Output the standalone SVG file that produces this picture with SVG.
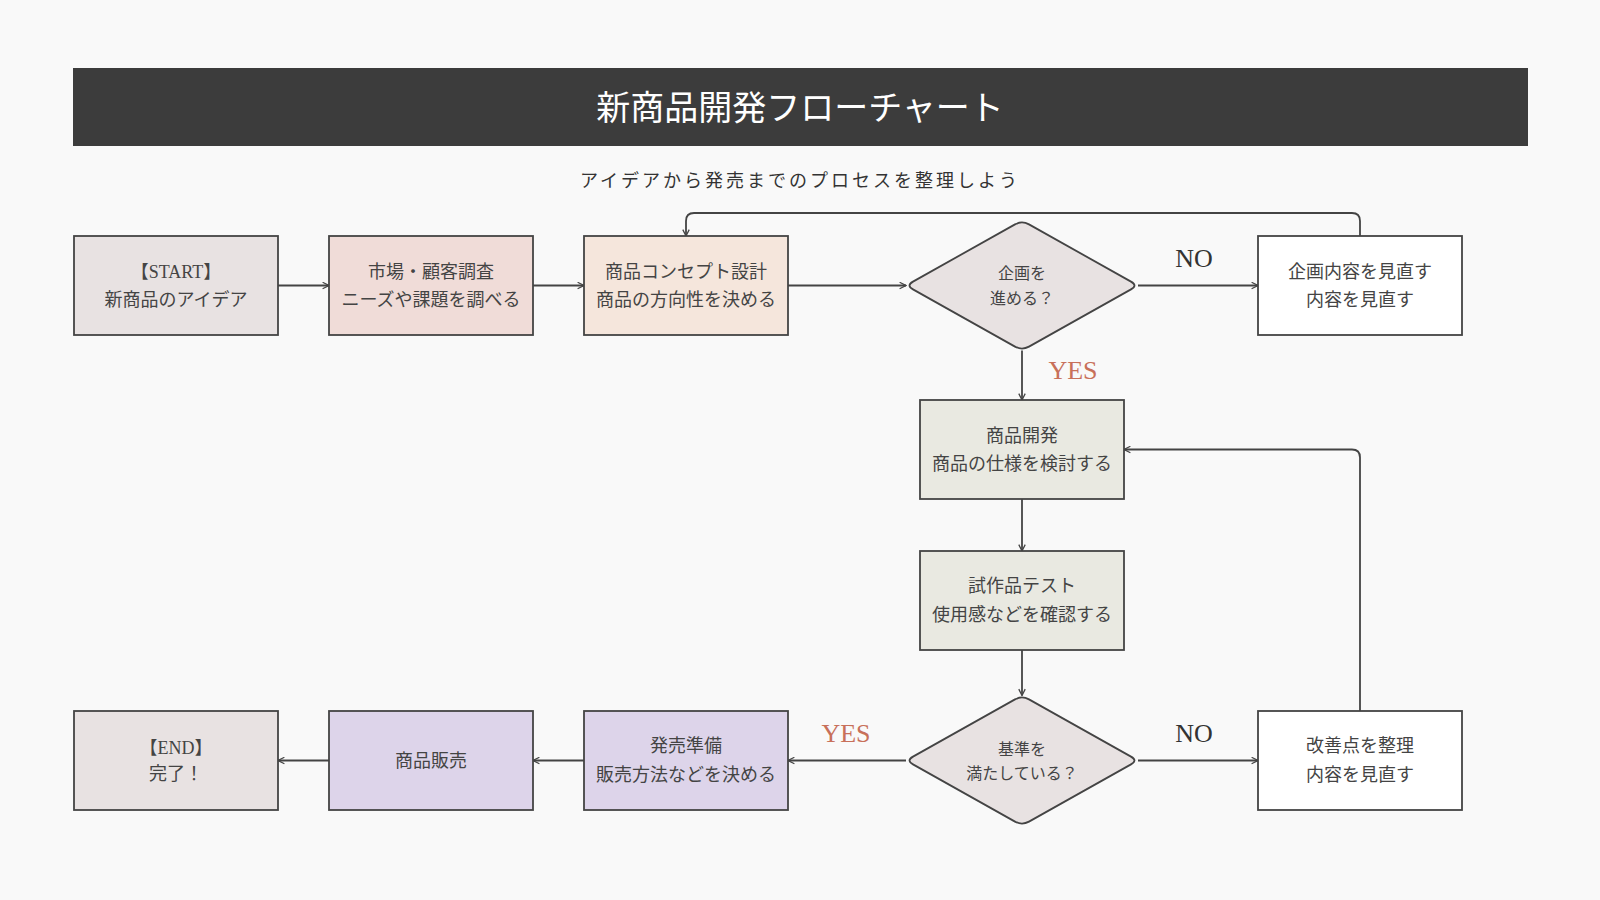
<svg xmlns="http://www.w3.org/2000/svg" width="1600" height="900" viewBox="0 0 1600 900">
<defs>
<style>
.bg{fill:#f9f9f9}
.box{stroke:#444;stroke-width:1.8}
.t{font-family:"Liberation Serif","Noto Sans CJK JP",serif;font-size:18px;fill:#444;text-anchor:middle}
.dt{font-family:"Liberation Serif","Noto Sans CJK JP",serif;font-size:16px;fill:#444;text-anchor:middle}
.lbl{font-family:"Liberation Serif","Noto Sans CJK JP",serif;font-size:26px;text-anchor:middle}
.no{fill:#333}
.yes{fill:#c8705a}
.c{fill:none;stroke:#444;stroke-width:1.8;marker-end:url(#ah)}
.start{fill:#e8e2e2}
.pink{fill:#f0dcd8}
.peach{fill:#f5e6dc}
.white{fill:#ffffff}
.green{fill:#e9e9e1}
.lav{fill:#ddd4ea}
</style>
<marker id="ah" viewBox="0 0 10 10" refX="9" refY="5" markerWidth="8" markerHeight="8" markerUnits="userSpaceOnUse" orient="auto">
<path d="M1,1 L9,5 L1,9" fill="none" stroke="#444" stroke-width="1.6"/>
</marker>
<path id="dia" d="M7,-61.1 L109,-3.9 Q116,0 109,3.9 L7,61.1 Q0,65 -7,61.1 L-109,3.9 Q-116,0 -109,-3.9 L-7,-61.1 Q0,-65 7,-61.1 Z"/>
</defs>
<rect class="bg" x="0" y="0" width="1600" height="900"/>
<g id="header">
<rect x="73" y="68" width="1455" height="78" fill="#3c3c3c"/>
<text x="800" y="120" font-family="Liberation Serif,'Noto Sans CJK JP',serif" font-size="34" fill="#ffffff" text-anchor="middle">新商品開発フローチャート</text>
<text x="800" y="187" font-family="Liberation Serif,'Noto Sans CJK JP',serif" font-size="18" fill="#333" text-anchor="middle" letter-spacing="3">アイデアから発売までのプロセスを整理しよう</text>
</g>
<g id="connectors">
<path class="c" d="M278,285.5 H329"/>
<path class="c" d="M533,285.5 H584"/>
<path class="c" d="M788,285.5 H906"/>
<path class="c" d="M1138,285.5 H1258"/>
<path class="c" d="M1360,236 V221 Q1360,213 1352,213 H694 Q686,213 686,221 V236"/>
<path class="c" d="M1022,350.5 V400"/>
<path class="c" d="M1022,499 V551"/>
<path class="c" d="M1022,650 V695.5"/>
<path class="c" d="M906,760.5 H788"/>
<path class="c" d="M1138,760.5 H1258"/>
<path class="c" d="M1360,711 V457.5 Q1360,449.5 1352,449.5 H1124"/>
<path class="c" d="M584,760.5 H533"/>
<path class="c" d="M329,760.5 H278"/>
<text class="lbl no" x="1194" y="267">NO</text>
<text class="lbl yes" x="1073" y="379">YES</text>
<text class="lbl yes" x="846" y="742">YES</text>
<text class="lbl no" x="1194" y="742">NO</text>
</g>
<g id="start">
<rect class="box start" x="74" y="236" width="204" height="99"/>
<text class="t" x="176" y="278">【START】</text>
<text class="t" x="176" y="306">新商品のアイデア</text>
</g>
<g id="research">
<rect class="box pink" x="329" y="236" width="204" height="99"/>
<text class="t" x="431" y="278">市場・顧客調査</text>
<text class="t" x="431" y="306">ニーズや課題を調べる</text>
</g>
<g id="concept">
<rect class="box peach" x="584" y="236" width="204" height="99"/>
<text class="t" x="686" y="278">商品コンセプト設計</text>
<text class="t" x="686" y="306">商品の方向性を決める</text>
</g>
<g id="decide1">
<use href="#dia" transform="translate(1022,285.5)" class="box start"/>
<text class="dt" x="1022" y="279">企画を</text>
<text class="dt" x="1022" y="304">進める？</text>
</g>
<g id="review1">
<rect class="box white" x="1258" y="236" width="204" height="99"/>
<text class="t" x="1360" y="278">企画内容を見直す</text>
<text class="t" x="1360" y="306">内容を見直す</text>
</g>
<g id="develop">
<rect class="box green" x="920" y="400" width="204" height="99"/>
<text class="t" x="1022" y="442">商品開発</text>
<text class="t" x="1022" y="470">商品の仕様を検討する</text>
</g>
<g id="test">
<rect class="box green" x="920" y="551" width="204" height="99"/>
<text class="t" x="1022" y="592">試作品テスト</text>
<text class="t" x="1022" y="621">使用感などを確認する</text>
</g>
<g id="decide2">
<use href="#dia" transform="translate(1022,760.5)" class="box start"/>
<text class="dt" x="1022" y="755">基準を</text>
<text class="dt" x="1022" y="779">満たしている？</text>
</g>
<g id="review2">
<rect class="box white" x="1258" y="711" width="204" height="99"/>
<text class="t" x="1360" y="752">改善点を整理</text>
<text class="t" x="1360" y="781">内容を見直す</text>
</g>
<g id="prep">
<rect class="box lav" x="584" y="711" width="204" height="99"/>
<text class="t" x="686" y="752">発売準備</text>
<text class="t" x="686" y="781">販売方法などを決める</text>
</g>
<g id="sell">
<rect class="box lav" x="329" y="711" width="204" height="99"/>
<text class="t" x="431" y="767">商品販売</text>
</g>
<g id="end">
<rect class="box start" x="74" y="711" width="204" height="99"/>
<text class="t" x="176" y="754">【END】</text>
<text class="t" x="176" y="780">完了！</text>
</g>
</svg>
